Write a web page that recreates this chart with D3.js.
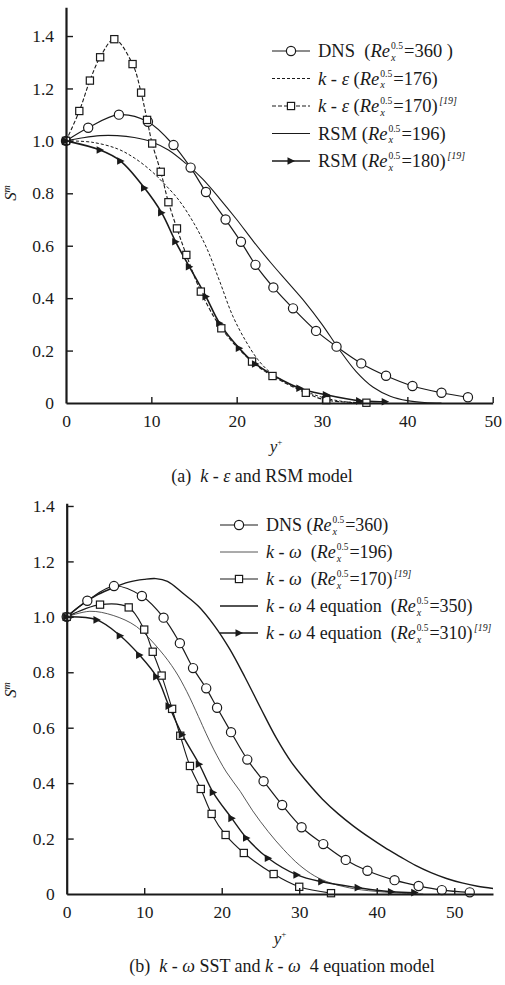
<!DOCTYPE html>
<html><head><meta charset="utf-8">
<script src="https://cdn.jsdelivr.net/npm/d3@7"></script>
<style>
body{margin:0;background:#fff}
svg{display:block}
</style>
</head><body>
<svg id="chart" width="505" height="985"></svg>
<script>
// ---------- panel (a): k-epsilon and RSM ----------
const dnsA_x = [0, 2.6, 6.2, 9.6, 12.6, 14.6, 16.4, 18.7, 20.5, 22.2, 24.3, 26.6, 29.3, 31.7, 34.6, 37.5, 40.6, 44.0, 47.1];
const dnsA_y = [1.0, 1.05, 1.10, 1.073, 0.984, 0.898, 0.805, 0.70, 0.615, 0.527, 0.441, 0.361, 0.275, 0.215, 0.151, 0.104, 0.065, 0.039, 0.022];

const ke176_x = [0, 3, 6, 8, 10, 11.4, 13.2, 15, 16.5, 18, 19.5, 21, 22.5, 24, 26, 28, 30, 32, 34];
const ke176_y = [1.0, 0.995, 0.97, 0.935, 0.885, 0.84, 0.775, 0.685, 0.59, 0.465, 0.335, 0.24, 0.165, 0.115, 0.075, 0.045, 0.022, 0.008, 0];

const ke170_x = [0, 1.56, 2.8, 4.0, 5.66, 7.8, 8.8, 9.5, 10.1, 11.1, 12.0, 13.0, 14.1, 15.8, 18.2, 21.8, 24.2, 28.1, 30.5, 35.2];
const ke170_y = [1.0, 1.114, 1.23, 1.319, 1.388, 1.293, 1.184, 1.08, 0.99, 0.882, 0.766, 0.666, 0.565, 0.425, 0.285, 0.158, 0.103, 0.039, 0.011, 0.001];

const rsm196_x = [0, 2, 4, 6, 8, 10, 12, 14, 16, 18, 20, 22, 24, 26, 28, 30, 32, 34, 36, 38, 40, 42, 44];
const rsm196_y = [1.0, 1.012, 1.02, 1.02, 1.013, 0.997, 0.965, 0.915, 0.855, 0.78, 0.70, 0.615, 0.535, 0.46, 0.385, 0.30, 0.205, 0.12, 0.06, 0.026, 0.009, 0.002, 0];

const rsm180_x = [0, 4.0, 6.4, 9.2, 11.2, 12.85, 14.45, 16.4, 18.0, 20.3, 22.2, 27.4, 30.5, 34.4, 37.4];
const rsm180_y = [1.0, 0.965, 0.923, 0.82, 0.726, 0.615, 0.52, 0.406, 0.304, 0.209, 0.149, 0.056, 0.031, 0.008, 0.005];

// ---------- panel (b): k-omega SST and k-omega 4 equation ----------
const dnsB_x = [0, 2.66, 6.1, 9.7, 12.5, 14.6, 16.3, 18.0, 19.4, 21.2, 23.3, 25.4, 27.8, 30.3, 33.1, 36.0, 38.8, 42.3, 45.4, 48.4, 52.0];
const dnsB_y = [1.0, 1.058, 1.111, 1.075, 0.997, 0.905, 0.815, 0.742, 0.672, 0.584, 0.485, 0.407, 0.321, 0.241, 0.18, 0.123, 0.084, 0.05, 0.029, 0.014, 0.006];

const kw196_x = [0, 3, 6, 9, 12, 14, 15.5, 17, 18, 19, 20.6, 22.4, 24, 26, 28, 30, 32, 34, 36, 38, 42, 46];
const kw196_y = [1.0, 1.02, 1.005, 0.965, 0.88, 0.805, 0.73, 0.64, 0.578, 0.52, 0.44, 0.37, 0.30, 0.225, 0.16, 0.105, 0.065, 0.04, 0.025, 0.015, 0.005, 0];

const kw170_x = [0, 4.3, 8.0, 10.0, 11.1, 12.25, 13.6, 14.65, 15.9, 17.3, 18.7, 20.5, 22.85, 26.7, 30.0, 34.1];
const kw170_y = [1.0, 1.044, 1.034, 0.954, 0.874, 0.788, 0.668, 0.571, 0.462, 0.379, 0.289, 0.213, 0.148, 0.072, 0.026, 0.003];

const kw4_350_x = [0, 2, 4, 6, 8, 10, 11.5, 13, 15, 17, 19, 21, 23, 25, 27, 29, 31, 33, 35, 37, 39, 41, 43, 45, 47, 49, 51, 53, 55];
const kw4_350_y = [1.0, 1.045, 1.08, 1.105, 1.125, 1.135, 1.138, 1.128, 1.085, 1.038, 0.97, 0.885, 0.782, 0.672, 0.565, 0.475, 0.405, 0.342, 0.29, 0.245, 0.205, 0.168, 0.135, 0.103, 0.077, 0.056, 0.04, 0.028, 0.02];

const kw4_310_x = [0, 3.9, 6.9, 9.4, 11.6, 13.2, 14.9, 17.1, 18.9, 21.3, 23.2, 26.0, 29.7, 32.9, 37.6, 41.9, 44.9];
const kw4_310_y = [1.0, 0.989, 0.932, 0.862, 0.784, 0.678, 0.575, 0.468, 0.366, 0.273, 0.202, 0.129, 0.069, 0.044, 0.023, 0.008, 0.005];

// tick values
const yTicks = [0, 0.2, 0.4, 0.6, 0.8, 1.0, 1.2, 1.4];
const xTicksA = [0, 10, 20, 30, 40, 50];
const xTicksB = [0, 10, 20, 30, 40, 50];

// legend labels: n = normal, i = italic, R = Re with stacked x / 0.5, c = citation
const legendA = [
  [['n', 'DNS  ('], ['R'], ['n', '=360 )']],
  [['i', 'k'], ['n', ' - '], ['i', 'ε'], ['n', ' ('], ['R'], ['n', '=176)']],
  [['i', 'k'], ['n', ' - '], ['i', 'ε'], ['n', ' ('], ['R'], ['n', '=170)'], ['c', '[19]']],
  [['n', 'RSM ('], ['R'], ['n', '=196)']],
  [['n', 'RSM ('], ['R'], ['n', '=180)'], ['c', '[19]']]
];
const legendB = [
  [['n', 'DNS ('], ['R'], ['n', '=360)']],
  [['i', 'k'], ['n', ' - '], ['i', 'ω'], ['n', '  ('], ['R'], ['n', '=196)']],
  [['i', 'k'], ['n', ' - '], ['i', 'ω'], ['n', '  ('], ['R'], ['n', '=170)'], ['c', '[19]']],
  [['i', 'k'], ['n', ' - '], ['i', 'ω'], ['n', ' 4 equation  ('], ['R'], ['n', '=350)']],
  [['i', 'k'], ['n', ' - '], ['i', 'ω'], ['n', ' 4 equation  ('], ['R'], ['n', '=310)'], ['c', '[19]']]
];
const captionA = [['n', '(a)  '], ['i', 'k'], ['n', ' - '], ['i', 'ε'], ['n', ' and RSM model']];
const captionB = [['n', '(b)  '], ['i', 'k'], ['n', ' - '], ['i', 'ω'], ['n', ' SST and '], ['i', 'k'], ['n', ' - '], ['i', 'ω'], ['n', '  4 equation model']];

const INK = '#1a1a1a';
const FONT = '"Liberation Serif", "Times New Roman", Times';
const svg = d3.select('#chart');

function zip(xs, ys) { return xs.map((x, i) => [x, ys[i]]); }

function txt(g, x, y, size, italic, s) {
  return g.append('text').attr('x', x).attr('y', y)
    .style('font-family', FONT).style('font-size', size + 'px')
    .style('font-style', italic ? 'italic' : 'normal').style('white-space', 'pre')
    .attr('fill', INK).text(s);
}

// Draws a sequence of text pieces left to right, measuring each one.
function richText(g, x0, y0, parts, size) {
  let x = x0;
  parts.forEach(p => {
    const type = p[0];
    if (type === 'R') {
      const t = txt(g, x, y0, size, true, 'Re');
      x += t.node().getComputedTextLength() + 1;
      const sup = txt(g, x, y0 - size * 0.42, size * 0.52, false, '0.5');
      const sub = txt(g, x, y0 + size * 0.2, size * 0.56, true, 'x');
      x += Math.max(sup.node().getComputedTextLength(), sub.node().getComputedTextLength()) + 1;
    } else if (type === 'c') {
      const t = txt(g, x + 1.5, y0 - size * 0.42, size * 0.54, true, p[1]);
      x += t.node().getComputedTextLength() + 1.5;
    } else {
      const t = txt(g, x, y0, size, type === 'i', p[1]);
      x += t.node().getComputedTextLength();
    }
  });
  return x - x0;
}

function marker(g, kind, cx, cy) {
  if (kind === 'circle') {
    g.append('circle').attr('cx', cx).attr('cy', cy).attr('r', 4.6)
      .attr('fill', '#fff').attr('stroke', INK).attr('stroke-width', 1.2);
  } else if (kind === 'square') {
    g.append('rect').attr('x', cx - 3.6).attr('y', cy - 3.6).attr('width', 7.2).attr('height', 7.2)
      .attr('fill', '#fff').attr('stroke', INK).attr('stroke-width', 1.2);
  } else if (kind === 'tri') {
    g.append('path').attr('d', `M${cx - 3.5},${cy - 3.8}L${cx + 4},${cy}L${cx - 3.5},${cy + 3.8}Z`)
      .attr('fill', INK);
  }
}

function drawPanel(cfg) {
  const g = svg.append('g');
  const x = d3.scaleLinear().domain(cfg.xDomain).range(cfg.xRange);
  const y = d3.scaleLinear().domain(cfg.yDomain).range(cfg.yRange);
  const line = d3.line().x(d => x(d[0])).y(d => y(d[1])).curve(d3.curveCatmullRom.alpha(0.5));

  // series lines
  cfg.series.forEach(s => {
    g.append('path').attr('d', line(zip(s.x, s.y))).attr('fill', 'none')
      .attr('stroke', s.color || INK).attr('stroke-width', s.width)
      .attr('stroke-dasharray', s.dash || null);
  });
  // series markers
  cfg.series.forEach(s => {
    if (!s.marker) return;
    const mg = g.append('g');
    zip(s.x, s.y).forEach(d => marker(mg, s.marker, x(d[0]), y(d[1])));
  });

  // axes
  const xAxis = d3.axisBottom(x).tickValues(cfg.xTicks).tickSizeInner(-6).tickSizeOuter(0).tickPadding(12)
    .tickFormat(d3.format('d'));
  const xa = g.append('g').attr('transform', `translate(0,${y(0)})`).call(xAxis);
  xa.select('.domain').attr('stroke', INK).attr('stroke-width', 2.2);
  xa.selectAll('.tick line').attr('stroke', INK).attr('stroke-width', 1.4);
  xa.selectAll('.tick text').style('font-size', '17.5px').style('font-family', FONT).attr('fill', INK);
  xa.selectAll('.tick').filter(d => d === 0).select('line').remove();

  const yAxis = d3.axisLeft(y).tickValues(yTicks).tickSizeInner(-7).tickSizeOuter(0).tickPadding(12)
    .tickFormat(d => d === 0 ? '0' : d3.format('.1f')(d));
  const ya = g.append('g').attr('transform', `translate(${x(0)},0)`).call(yAxis);
  ya.select('.domain').attr('stroke', INK).attr('stroke-width', 2.2);
  ya.selectAll('.tick line').attr('stroke', INK).attr('stroke-width', 1.4);
  ya.selectAll('.tick text').style('font-size', '17.5px').style('font-family', FONT).attr('fill', INK);
  ya.selectAll('.tick').filter(d => d === 0).select('line').remove();

  // axis titles
  const yl = g.append('text').attr('transform', `translate(${cfg.yLabel[0]},${cfg.yLabel[1]}) rotate(-90)`)
    .attr('text-anchor', 'middle').style('font-family', FONT).style('font-size', '17px').attr('fill', INK);
  yl.append('tspan').style('font-style', 'italic').text('S');
  yl.append('tspan').attr('dy', -6).style('font-size', '10px').style('font-style', 'italic').text('m');

  const xl = g.append('text').attr('x', cfg.xLabel[0]).attr('y', cfg.xLabel[1]).attr('text-anchor', 'middle')
    .style('font-family', FONT).style('font-size', '17px').attr('fill', INK);
  xl.append('tspan').style('font-style', 'italic').text('y');
  xl.append('tspan').attr('dy', -7).style('font-size', '9px').text('+');

  // legend
  const lg = g.append('g');
  cfg.legend.forEach((parts, i) => {
    const s = cfg.series[i];
    const cy = cfg.legendY + i * cfg.legendStep;
    lg.append('line').attr('x1', cfg.legendX).attr('x2', cfg.legendX + cfg.legendLen).attr('y1', cy).attr('y2', cy)
      .attr('stroke', s.color || INK).attr('stroke-width', s.width).attr('stroke-dasharray', s.dash || null);
    if (s.marker) marker(lg, s.marker, cfg.legendX + cfg.legendLen / 2, cy);
    richText(lg, cfg.legendX + cfg.legendLen + 8, cy + 6, parts, cfg.legendSize);
  });

  // caption
  const cg = g.append('g');
  const w = richText(cg, 0, cfg.caption[1], cfg.caption[2], 18);
  cg.attr('transform', `translate(${cfg.caption[0] - w / 2},0)`);
}

drawPanel({
  xDomain: [0, 50], xRange: [66, 492.7],
  yDomain: [0, 1.51], yRange: [403, 7.2],
  xTicks: xTicksA,
  yLabel: [16, 193], xLabel: [276, 452],
  legendX: 272, legendLen: 38, legendY: 51, legendStep: 27.5, legendSize: 18.5,
  legend: legendA,
  caption: [262, 482, captionA],
  series: [
    { x: dnsA_x, y: dnsA_y, width: 1.2, marker: 'circle' },
    { x: ke176_x, y: ke176_y, width: 1, dash: '3,2' },
    { x: ke170_x, y: ke170_y, width: 1.1, dash: '4,2', marker: 'square' },
    { x: rsm196_x, y: rsm196_y, width: 1.1 },
    { x: rsm180_x, y: rsm180_y, width: 1.6, marker: 'tri' }
  ]
});

drawPanel({
  xDomain: [0, 55], xRange: [66.7, 493],
  yDomain: [0, 1.41], yRange: [894, 503.2],
  xTicks: xTicksB,
  yLabel: [16, 690], xLabel: [280, 944],
  legendX: 220, legendLen: 38, legendY: 525, legendStep: 27, legendSize: 18,
  legend: legendB,
  caption: [282, 972, captionB],
  series: [
    { x: dnsB_x, y: dnsB_y, width: 1.2, marker: 'circle' },
    { x: kw196_x, y: kw196_y, width: 0.9, color: '#444' },
    { x: kw170_x, y: kw170_y, width: 1.1, marker: 'square' },
    { x: kw4_350_x, y: kw4_350_y, width: 1.4 },
    { x: kw4_310_x, y: kw4_310_y, width: 1.4, marker: 'tri' }
  ]
});
</script>
</body></html>
